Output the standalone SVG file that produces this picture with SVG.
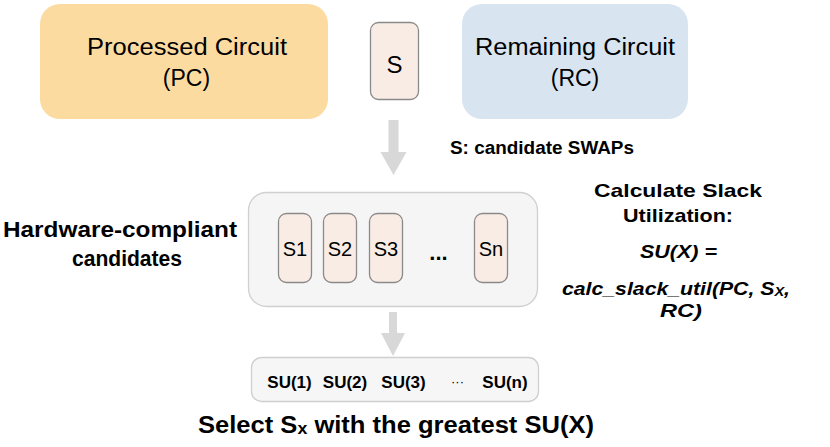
<svg xmlns="http://www.w3.org/2000/svg" width="830" height="447" viewBox="0 0 830 447">
<style>
text{font-family:"Liberation Sans",Arial,Helvetica,sans-serif;fill:#000}
.big{font-size:23px}
.b{font-weight:bold}
.bi{font-weight:bold;font-style:italic;font-size:19px}
.sw{fill:#f9ece4;stroke:#8a8a8a;stroke-width:1.3}
.arr{fill:#d8d8d8}
</style>
<rect width="830" height="447" fill="#fff"/>
<g id="pc">
<rect x="40" y="4" width="288" height="115" rx="20" fill="#fcdba1"/>
<text class="big" x="187" y="55" text-anchor="middle" textLength="200" lengthAdjust="spacingAndGlyphs">Processed Circuit</text>
<text class="big" x="186.5" y="86" text-anchor="middle">(PC)</text>
</g>
<g id="s">
<rect class="sw" x="370.5" y="22.5" width="48" height="77" rx="8"/>
<text x="394.5" y="73" font-size="24" text-anchor="middle">S</text>
</g>
<g id="rc">
<rect x="462" y="4" width="226" height="115" rx="20" fill="#d8e5f0"/>
<text class="big" x="575" y="55" text-anchor="middle" textLength="200" lengthAdjust="spacingAndGlyphs">Remaining Circuit</text>
<text class="big" x="575" y="86" text-anchor="middle">(RC)</text>
</g>
<g id="s-label">
<text class="b" x="450" y="154" font-size="18" textLength="184" lengthAdjust="spacingAndGlyphs">S: candidate SWAPs</text>
</g>
<g id="hw-label">
<text class="b" x="120" y="237" font-size="22" text-anchor="middle" textLength="234" lengthAdjust="spacingAndGlyphs">Hardware-compliant</text>
<text class="b" x="127" y="266" font-size="22" text-anchor="middle" textLength="110" lengthAdjust="spacingAndGlyphs">candidates</text>
</g>
<g id="candidates">
<rect x="248.5" y="192.5" width="289" height="114" rx="18" fill="#f5f5f5" stroke="#d0d0d0" stroke-width="1.3"/>
<rect class="sw" x="278.5" y="213.5" width="33" height="69" rx="8"/>
<rect class="sw" x="323.5" y="213.5" width="33" height="69" rx="8"/>
<rect class="sw" x="369.5" y="213.5" width="33" height="69" rx="8"/>
<rect class="sw" x="474.5" y="213.5" width="33" height="69" rx="8"/>
<text x="295" y="256" font-size="20" text-anchor="middle">S1</text>
<text x="340" y="256" font-size="20" text-anchor="middle">S2</text>
<text x="386" y="256" font-size="20" text-anchor="middle">S3</text>
<text x="491" y="256" font-size="20" text-anchor="middle">Sn</text>
<text class="b" x="438.5" y="260" font-size="22" text-anchor="middle">...</text>
</g>
<g id="calc">
<text class="b" x="678" y="197" font-size="19" text-anchor="middle" textLength="168" lengthAdjust="spacingAndGlyphs">Calculate Slack</text>
<text class="b" x="678" y="222" font-size="19" text-anchor="middle" textLength="110" lengthAdjust="spacingAndGlyphs">Utilization:</text>
<text class="bi" x="678.5" y="258" text-anchor="middle" textLength="77" lengthAdjust="spacingAndGlyphs">SU(X) =</text>
<text class="bi" x="562" y="295" textLength="228" lengthAdjust="spacingAndGlyphs">calc_slack_util(PC, S<tspan font-size="13" dy="1">X</tspan><tspan dy="-1">,</tspan></text>
<text class="bi" x="681" y="317" font-size="20" text-anchor="middle" textLength="42" lengthAdjust="spacingAndGlyphs">RC)</text>
</g>
<g id="su">
<rect x="251.5" y="357.5" width="287" height="44" rx="10" fill="#f6f6f6" stroke="#cfcfcf" stroke-width="1.3"/>
<text class="b" x="289.5" y="388" font-size="17" text-anchor="middle">SU(1)</text>
<text class="b" x="345" y="388" font-size="17" text-anchor="middle">SU(2)</text>
<text class="b" x="403.5" y="388" font-size="17" text-anchor="middle">SU(3)</text>
<text x="457.5" y="386" font-size="13" text-anchor="middle">···</text>
<text class="b" x="505" y="388" font-size="17" text-anchor="middle">SU(n)</text>
</g>
<g id="select">
<text class="b" x="396" y="433" font-size="23" text-anchor="middle" textLength="396" lengthAdjust="spacingAndGlyphs">Select S<tspan font-size="16" dy="1">x</tspan><tspan dy="-1"> with the greatest SU(X)</tspan></text>
</g>
<g id="connectors">
<polygon class="arr" points="388.5,120 398.5,120 398.5,152 406.5,152 393.5,175 380.5,152 388.5,152"/>
<polygon class="arr" points="389,312 397,312 397,333 405,333 393,356 381,333 389,333"/>
</g>
</svg>
